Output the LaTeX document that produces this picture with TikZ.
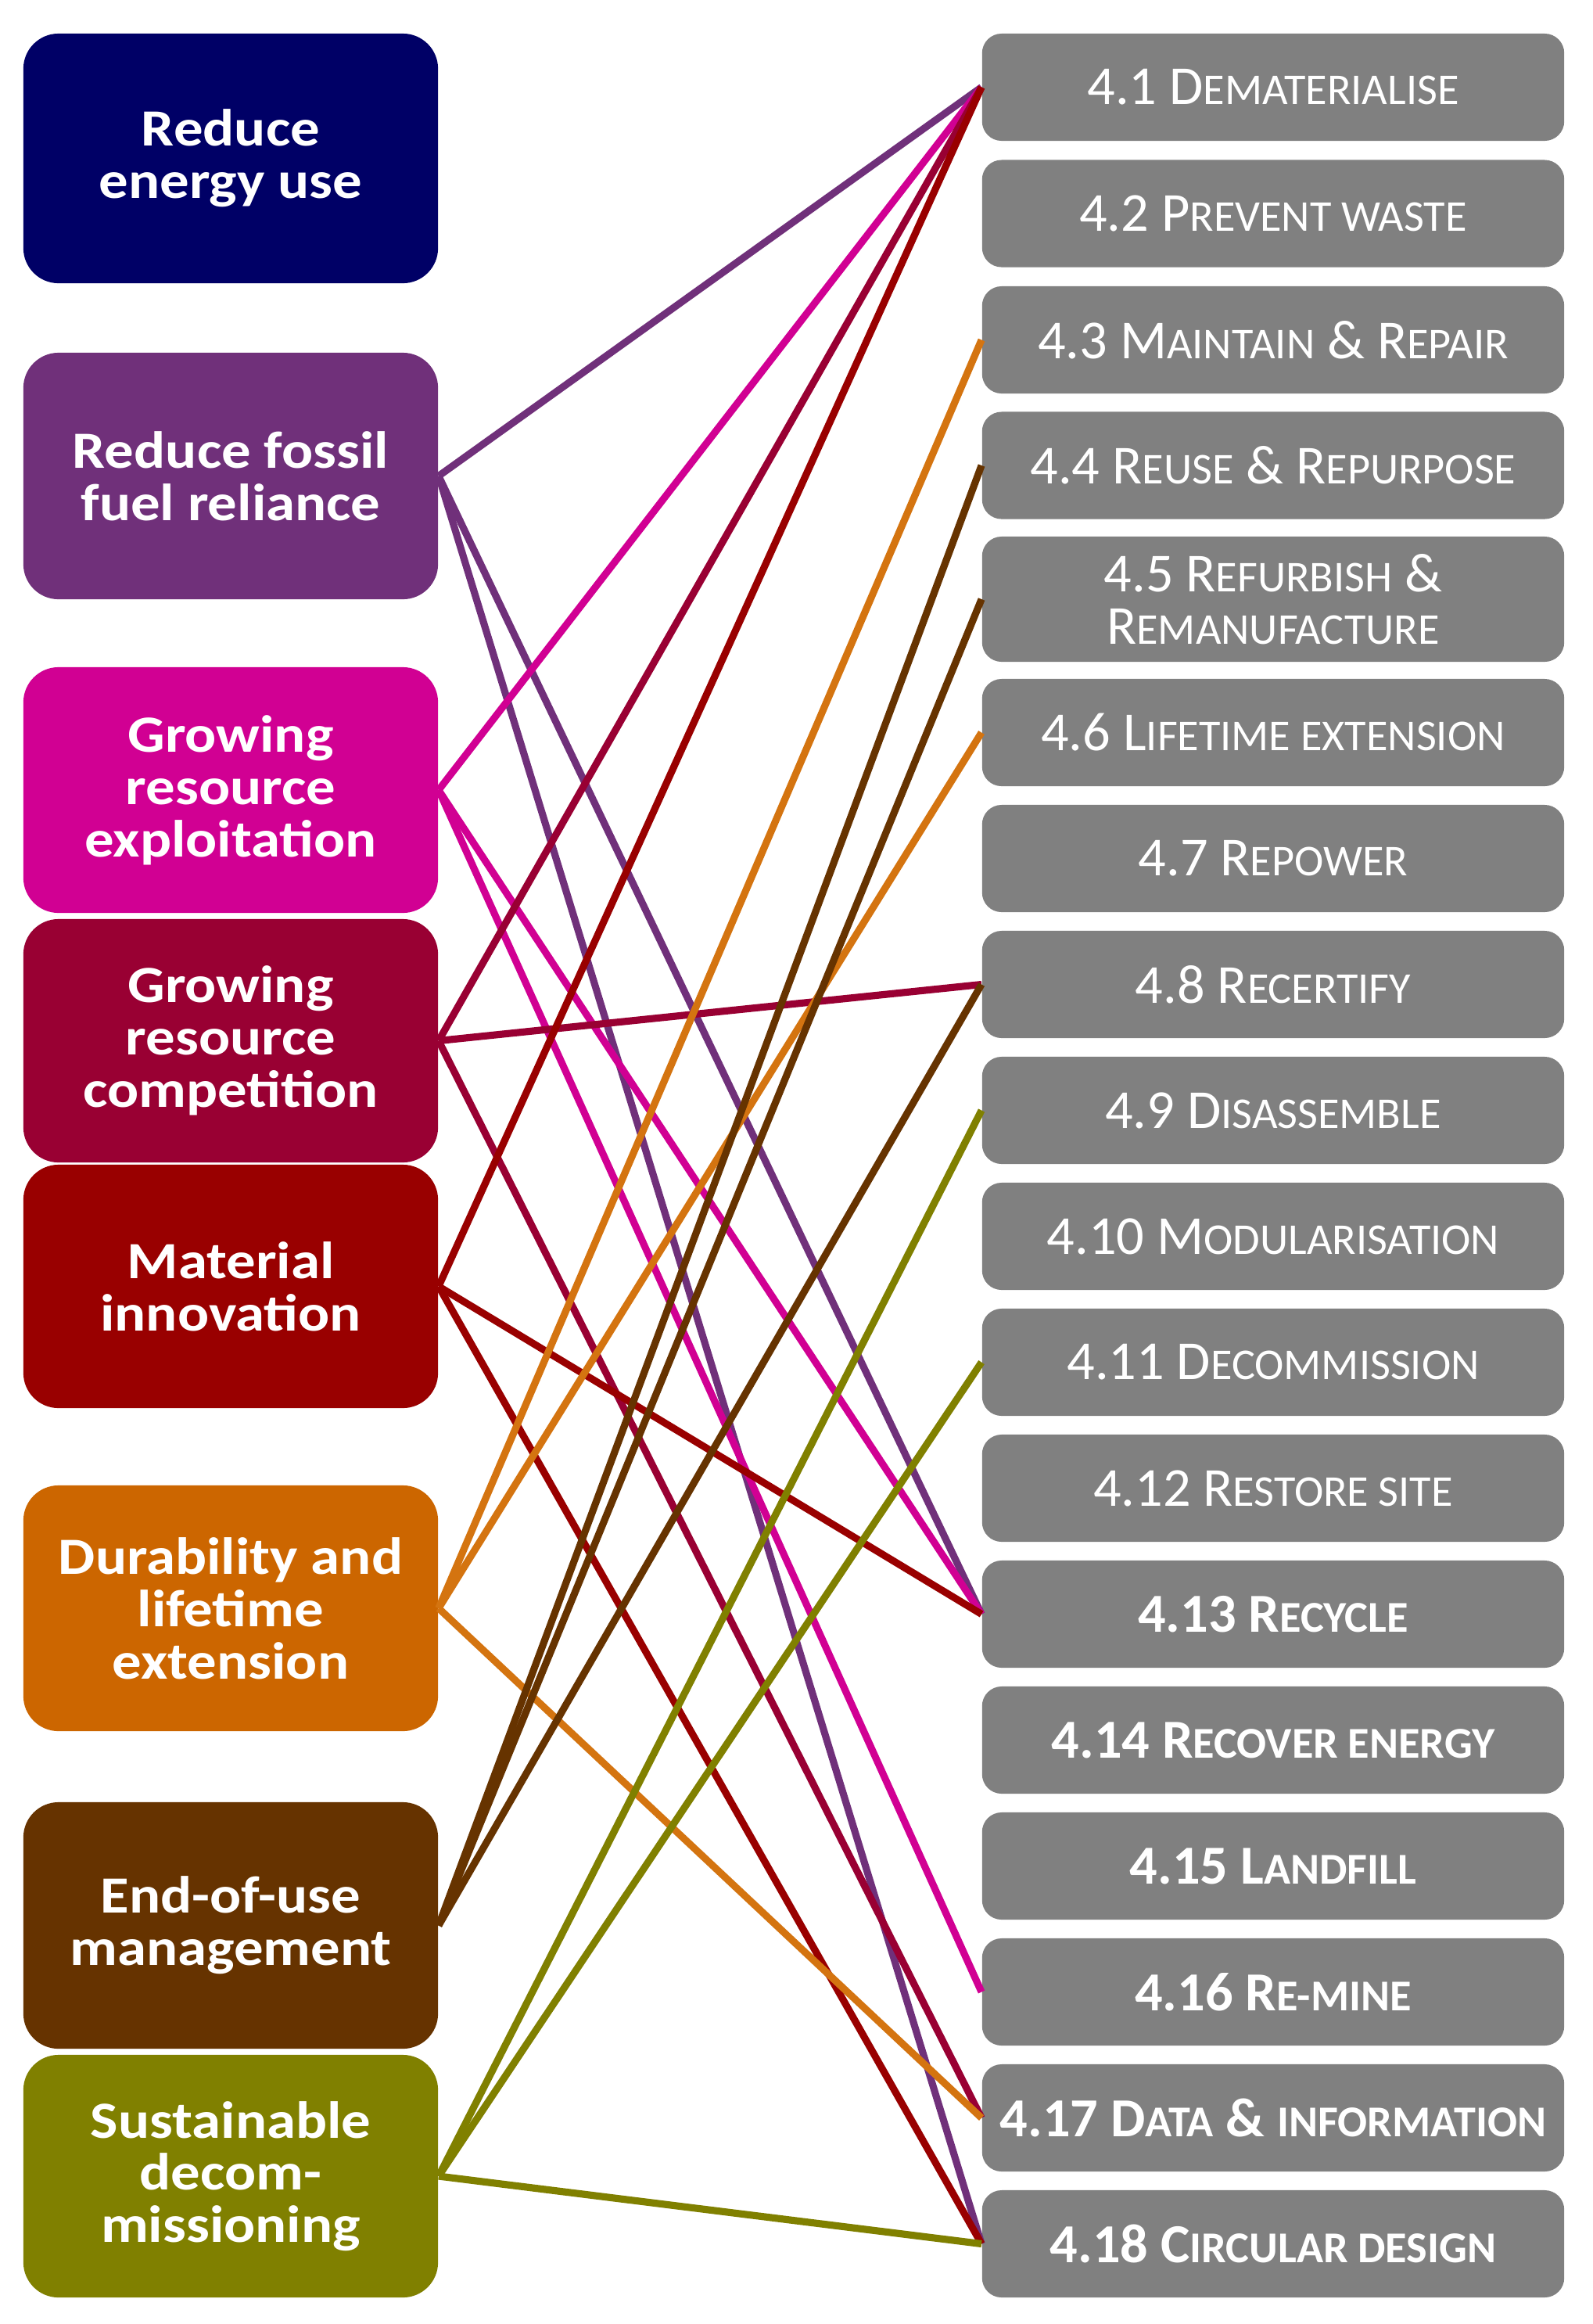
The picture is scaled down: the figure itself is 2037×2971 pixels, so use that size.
\documentclass[tikz,border=0pt]{standalone}
\usepackage{fontspec}
\setmainfont{Carlito}
\newfontfamily\leftfont{Carlito}[FakeStretch=1.12]
\definecolor{cNavy}{HTML}{000066}
\definecolor{cPurple}{HTML}{70307A}
\definecolor{cMagenta}{HTML}{D10093}
\definecolor{cCrimson}{HTML}{990033}
\definecolor{cDarkred}{HTML}{990000}
\definecolor{cOrange}{HTML}{CC6600}
\definecolor{cBrown}{HTML}{663300}
\definecolor{cOlive}{HTML}{808000}
\definecolor{cGrey}{HTML}{808080}
\definecolor{cOrangeLine}{HTML}{D47410}
\newcommand{\fsc}[1]{{\fontsize{16}{19}\selectfont #1}}
\tikzset{
  lbox/.style={fill=#1, draw=none, rounded corners=0.45cm, minimum width=5.3cm,
    inner sep=0pt, text=white, align=center,
    font=\leftfont\bfseries\fontsize{19}{19}\selectfont},
  rbox/.style={fill=cGrey, draw=none, rounded corners=0.25cm, minimum width=7.44cm,
    minimum height=1.37cm, inner sep=0pt, text=white, align=center,
    font=\fontsize{20}{19}\selectfont},
  link/.style={draw=#1, line width=2.6pt}
}
\begin{document}
\begin{tikzpicture}[x=0.01cm,y=-0.01cm]
\useasboundingbox[fill=white] (0,0) rectangle (2037,2971);
% left boxes
\node[lbox=cNavy, minimum height=3.19cm] (L1) at (295,202.5) {Reduce\\energy use};
\node[lbox=cPurple, minimum height=3.15cm] (L2) at (295,608.5) {Reduce fossil\\fuel reliance};
\node[lbox=cMagenta, minimum height=3.14cm] (L3) at (295,1010) {Growing\\resource\\exploitation};
\node[lbox=cCrimson, minimum height=3.11cm] (L4) at (295,1330.5) {Growing\\resource\\competition};
\node[lbox=cDarkred, minimum height=3.11cm] (L5) at (295,1644.5) {Material\\innovation};
\node[lbox=cOrange, minimum height=3.14cm] (L6) at (295,2056) {Durability and\\lifetime\\extension};
\node[lbox=cBrown, minimum height=3.15cm] (L7) at (295,2461.5) {End-of-use\\management};
\node[lbox=cOlive, minimum height=3.10cm] (L8) at (295,2782) {Sustainable\\decom-\\missioning};
% right boxes
\node[rbox] (R1) at (1628,111.5) {4.1 D\fsc{EMATERIALISE}};
\node[rbox] (R2) at (1628,273) {4.2 P\fsc{REVENT WASTE}};
\node[rbox] (R3) at (1628,434.5) {4.3 M\fsc{AINTAIN} \& R\fsc{EPAIR}};
\node[rbox] (R4) at (1628,595) {4.4 R\fsc{EUSE} \& R\fsc{EPURPOSE}};
\node[rbox, minimum height=1.60cm] (R5) at (1628,766) {4.5 R\fsc{EFURBISH} \&\\R\fsc{EMANUFACTURE}};
\node[rbox] (R6) at (1628,936.5) {4.6 L\fsc{IFETIME EXTENSION}};
\node[rbox] (R7) at (1628,1097.5) {4.7 R\fsc{EPOWER}};
\node[rbox] (R8) at (1628,1258.5) {4.8 R\fsc{ECERTIFY}};
\node[rbox] (R9) at (1628,1419.5) {4.9 D\fsc{ISASSEMBLE}};
\node[rbox] (R10) at (1628,1580.5) {4.10 M\fsc{ODULARISATION}};
\node[rbox] (R11) at (1628,1741.5) {4.11 D\fsc{ECOMMISSION}};
\node[rbox] (R12) at (1628,1902.5) {4.12 R\fsc{ESTORE SITE}};
\node[rbox] (R13) at (1628,2063.5) {\bfseries 4.13 R\fsc{ECYCLE}};
\node[rbox] (R14) at (1628,2224.5) {\bfseries 4.14 R\fsc{ECOVER ENERGY}};
\node[rbox] (R15) at (1628,2385.5) {\bfseries 4.15 L\fsc{ANDFILL}};
\node[rbox] (R16) at (1628,2546.5) {\bfseries 4.16 R\fsc{E-MINE}};
\node[rbox] (R17) at (1628,2707.5) {\bfseries 4.17 D\fsc{ATA} \& \fsc{INFORMATION}};
\node[rbox] (R18) at (1628,2868.5) {\bfseries 4.18 C\fsc{IRCULAR DESIGN}};
% links
\draw[link=cPurple] (L2.east) -- (R1.west);
\draw[link=cPurple] (L2.east) -- (R13.west);
\draw[link=cPurple] (L2.east) -- (R18.west);
\draw[link=cMagenta] (L3.east) -- (R1.west);
\draw[link=cMagenta] (L3.east) -- (R13.west);
\draw[link=cMagenta] (L3.east) -- (R16.west);
\draw[link=cCrimson] (L4.east) -- (R1.west);
\draw[link=cCrimson] (L4.east) -- (R8.west);
\draw[link=cCrimson] (L4.east) -- (R17.west);
\draw[link=cDarkred] (L5.east) -- (R1.west);
\draw[link=cDarkred] (L5.east) -- (R13.west);
\draw[link=cDarkred] (L5.east) -- (R18.west);
\draw[link=cOrangeLine] (L6.east) -- (R3.west);
\draw[link=cOrangeLine] (L6.east) -- (R6.west);
\draw[link=cOrangeLine] (L6.east) -- (R17.west);
\draw[link=cBrown] (L7.east) -- (R4.west);
\draw[link=cBrown] (L7.east) -- (R5.west);
\draw[link=cBrown] (L7.east) -- (R8.west);
\draw[link=cOlive] (L8.east) -- (R9.west);
\draw[link=cOlive] (L8.east) -- (R11.west);
\draw[link=cOlive] (L8.east) -- (R18.west);
\end{tikzpicture}
\end{document}
